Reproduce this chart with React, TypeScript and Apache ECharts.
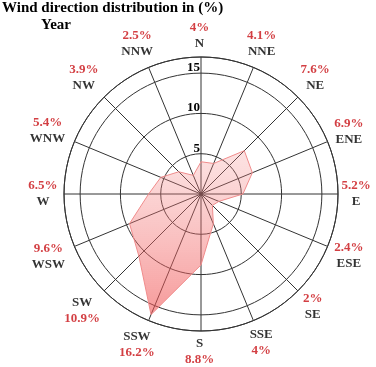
import React, { useEffect, useRef } from "react";
import * as echarts from "echarts";

const directions = ["N", "NNE", "NE", "ENE", "E", "ESE", "SE", "SSE", "S", "SSW", "SW", "WSW", "W", "WNW", "NW", "NNW"];
const frequencies = [4, 4.1, 7.6, 6.9, 5.2, 2.4, 2, 4, 8.8, 16.2, 10.9, 9.6, 6.5, 5.4, 3.9, 2.5];
const nameFirst = ["SSE", "S", "SSW", "SW"];
const radiusTickLabels = [5, 10, 15];
const titleText = "Wind direction distribution in (%)";
const subtitleText = "Year";

const FONT = "'Liberation Serif', 'Times New Roman', serif";
const STEP = 360 / 16;
const R_MAX = 17;
const R_PX = 137;
const LABEL_GAP = 5;
const LINE_H = 16;
const RED = "#c80f14";
const INK = "#000";

export default function App() {
  const ref = useRef<HTMLDivElement>(null);
  useEffect(() => {
    if (!ref.current) return;
    const chart = echarts.init(ref.current, undefined, { renderer: "svg" });

    const ctx = document.createElement("canvas").getContext("2d");
    const measure = (t: string) => {
      if (!ctx) return t.length * 8;
      ctx.font = `bold 13px ${FONT}`;
      return ctx.measureText(t).width;
    };

    const lineData = frequencies.map((v, i) => [v, i * STEP]);
    lineData.push([frequencies[0], 360]);

    const labelData = directions.map((d, i) => {
      const pct = `${frequencies[i]}%`;
      const w = Math.max(measure(pct), measure(d));
      const h = LINE_H * 2;
      const a = (i * STEP * Math.PI) / 180;
      const ext = Math.abs(Math.sin(a)) * (w / 2) + Math.abs(Math.cos(a)) * (h / 2);
      const rPx = R_PX + LABEL_GAP + ext;
      return { value: [(rPx / R_PX) * R_MAX, i * STEP], name: d, pct };
    });

    chart.setOption({
      animation: false,
      title: [
        {
          text: titleText,
          left: 2,
          top: -1,
          padding: 0,
          textStyle: { fontFamily: FONT, fontWeight: "bold", fontSize: 15, color: INK },
        },
        {
          text: subtitleText,
          left: 41,
          top: 16,
          padding: 0,
          textStyle: { fontFamily: FONT, fontWeight: "bold", fontSize: 15, color: INK },
        },
      ],
      polar: { center: [201, 194], radius: R_PX },
      angleAxis: {
        type: "value",
        min: 0,
        max: 360,
        interval: STEP,
        startAngle: 90,
        clockwise: true,
        axisLabel: { show: false },
        axisTick: { show: false },
        axisLine: { show: true, lineStyle: { color: "#333", width: 1 } },
        splitLine: { show: true, lineStyle: { color: "#333", width: 1 } },
      },
      radiusAxis: {
        type: "value",
        min: 0,
        max: R_MAX,
        interval: 5,
        axisLine: { show: false },
        axisTick: { show: false },
        splitLine: { show: true, lineStyle: { color: "#333", width: 1 } },
        axisLabel: {
          show: true,
          formatter: (v: number) => (radiusTickLabels.includes(v) ? String(v) : ""),
          fontFamily: FONT,
          fontWeight: "bold",
          fontSize: 13,
          color: INK,
          margin: 1,
          align: "right",
          verticalAlign: "bottom",
        },
      },
      series: [
        {
          type: "line",
          coordinateSystem: "polar",
          data: lineData,
          symbol: "none",
          smooth: false,
          lineStyle: { color: "#f08c8c", width: 1 },
          areaStyle: {
            color: new echarts.graphic.LinearGradient(0, 0, 0, 1, [
              { offset: 0, color: "rgba(245,140,140,0.25)" },
              { offset: 1, color: "rgba(240,80,80,0.58)" },
            ]),
            opacity: 1,
          },
          silent: true,
          z: 2,
        },
        {
          type: "scatter",
          coordinateSystem: "polar",
          data: labelData,
          symbolSize: 0,
          clip: false,
          silent: true,
          itemStyle: { color: "transparent" },
          label: {
            show: true,
            position: "inside",
            offset: [-1.5, -1.5],
            formatter: (p: any) => {
              const name = p.data.name;
              const pct = `{v|${p.data.pct}}`;
              const nm = `{d|${name}}`;
              return nameFirst.includes(name) ? `${nm}\n${pct}` : `${pct}\n${nm}`;
            },
            rich: {
              v: { fontFamily: FONT, fontWeight: "bold", fontSize: 13, color: RED, lineHeight: LINE_H, align: "center" },
              d: { fontFamily: FONT, fontWeight: "bold", fontSize: 13, color: INK, lineHeight: LINE_H, align: "center" },
            },
          },
          z: 3,
        },
      ],
    });
    return () => chart.dispose();
  }, []);
  return <div ref={ref} style={{ position: "fixed", left: 0, top: 0, width: 376, height: 367 }} />;
}
